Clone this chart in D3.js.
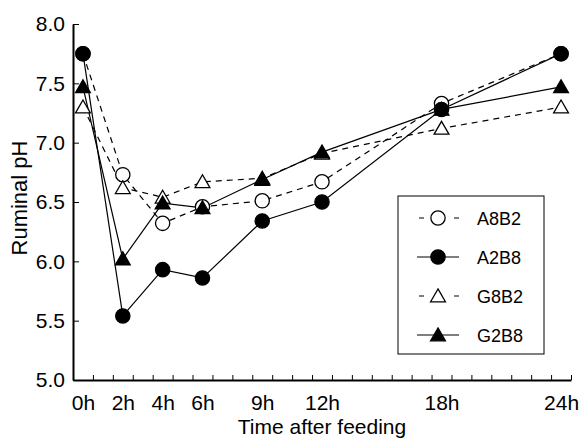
<!DOCTYPE html>
<html>
<head>
<meta charset="utf-8">
<script src="https://cdn.jsdelivr.net/npm/d3@7"></script>
<style>
  body { margin: 0; background: #fff; }
  svg { font-family: "Liberation Sans", Arial, sans-serif; }
</style>
</head>
<body>
<div id="chart"></div>
<script>
// Hours after feeding (x positions are linear in time)
const hours = [0, 2, 4, 6, 9, 12, 18, 24];
const hourLabels = ["0h", "2h", "4h", "6h", "9h", "12h", "18h", "24h"];
const yTicks = [5.0, 5.5, 6.0, 6.5, 7.0, 7.5, 8.0];

// Ruminal pH for each treatment
const seriesNames = ["A8B2", "A2B8", "G8B2", "G2B8"];
const a8b2 = [7.75, 6.73, 6.32, 6.46, 6.51, 6.67, 7.33, 7.75];
const a2b8 = [7.75, 5.54, 5.93, 5.86, 6.34, 6.50, 7.28, 7.75];
const g8b2 = [7.30, 6.62, 6.54, 6.67, 6.70, 6.91, 7.12, 7.30];
const g2b8 = [7.47, 6.02, 6.49, 6.45, 6.69, 6.92, 7.28, 7.47];

const width = 581, height = 441;

const svg = d3.select("#chart")
  .append("svg")
  .attr("width", width)
  .attr("height", height);

// Scales
const x = d3.scaleLinear().domain([-0.5, 24.5]).range([73, 571]);
const y = d3.scaleLinear().domain([5, 8]).range([380, 24]);

// Series setup
const series = [
  {name: seriesNames[0], values: a8b2, shape: "circle",   filled: false, dashed: true},
  {name: seriesNames[1], values: a2b8, shape: "circle",   filled: true,  dashed: false},
  {name: seriesNames[2], values: g8b2, shape: "triangle", filled: false, dashed: true},
  {name: seriesNames[3], values: g2b8, shape: "triangle", filled: true,  dashed: false}
];

const symbolFor = s => d3.symbol()
  .type(s.shape === "circle" ? d3.symbolCircle : d3.symbolTriangle)
  .size(s.shape === "circle" ? 160 : 95);

const line = d3.line()
  .x((d, i) => x(hours[i]))
  .y(d => y(d));

// Lines
svg.append("g")
  .selectAll("path")
  .data(series)
  .join("path")
  .attr("d", d => line(d.values))
  .attr("fill", "none")
  .attr("stroke", "#000")
  .attr("stroke-width", 1.2)
  .attr("stroke-dasharray", d => d.dashed ? "6,5" : null);

// Markers (open ones first so filled sit on top)
const drawOrder = [series[0], series[2], series[1], series[3]];
drawOrder.forEach(s => {
  svg.append("g")
    .selectAll("path")
    .data(s.values)
    .join("path")
    .attr("transform", (d, i) => `translate(${x(hours[i])},${y(d) + (s.shape === "triangle" ? 1.5 : 0)})`)
    .attr("d", symbolFor(s)())
    .attr("fill", s.filled ? "#000" : "#fff")
    .attr("stroke", "#000")
    .attr("stroke-width", 1.3);
});

// X axis: half-hour boundary ticks pointing inward
const xTickVals = d3.range(-0.5, 25, 1);
svg.append("g")
  .attr("transform", "translate(0,380)")
  .call(d3.axisBottom(x).tickValues(xTickVals).tickSize(-5).tickSizeOuter(0).tickFormat(""))
  .call(g => g.select(".domain").attr("stroke-width", 2))
  .call(g => g.selectAll(".tick line").attr("stroke-width", 1));

// X labels
svg.append("g")
  .attr("transform", "translate(0,380)")
  .call(d3.axisBottom(x).tickValues(hours).tickSize(0).tickPadding(15)
    .tickFormat((d, i) => hourLabels[i]))
  .call(g => g.select(".domain").remove())
  .selectAll("text")
  .attr("font-size", 21)
  .attr("fill", "#000");

// Y axis
svg.append("g")
  .attr("transform", "translate(73,0)")
  .call(d3.axisLeft(y).tickValues(yTicks).tickSize(-6).tickSizeOuter(0)
    .tickPadding(8).tickFormat(d3.format(".1f")))
  .call(g => g.select(".domain").attr("stroke-width", 2))
  .selectAll("text")
  .attr("font-size", 21)
  .attr("fill", "#000");

// Axis titles
svg.append("text")
  .attr("x", 322)
  .attr("y", 434)
  .attr("text-anchor", "middle")
  .attr("font-size", 21)
  .text("Time after feeding");

svg.append("text")
  .attr("transform", "translate(27,198) rotate(-90)")
  .attr("text-anchor", "middle")
  .attr("font-size", 22)
  .text("Ruminal pH");

// Legend
const legend = svg.append("g");
legend.append("rect")
  .attr("x", 398).attr("y", 196)
  .attr("width", 146).attr("height", 158)
  .attr("fill", "#fff")
  .attr("stroke", "#000")
  .attr("stroke-width", 1);

const rows = legend.selectAll("g.row")
  .data(series)
  .join("g")
  .attr("class", "row")
  .attr("transform", (d, i) => `translate(0,${218 + i * 39})`);

rows.append("line")
  .attr("x1", d => d.dashed ? 419 : 417)
  .attr("x2", 459)
  .attr("stroke", "#000")
  .attr("stroke-width", 1.2)
  .attr("stroke-dasharray", d => d.dashed ? "5,30" : null);

rows.append("path")
  .attr("transform", d => `translate(438,${d.shape === "triangle" ? 1.5 : 0})`)
  .attr("d", d => symbolFor(d)())
  .attr("fill", d => d.filled ? "#000" : "#fff")
  .attr("stroke", "#000")
  .attr("stroke-width", 1.3);

rows.append("text")
  .attr("x", 477)
  .attr("y", 1)
  .attr("dominant-baseline", "central")
  .attr("font-size", 18)
  .text(d => d.name);
</script>
</body>
</html>
